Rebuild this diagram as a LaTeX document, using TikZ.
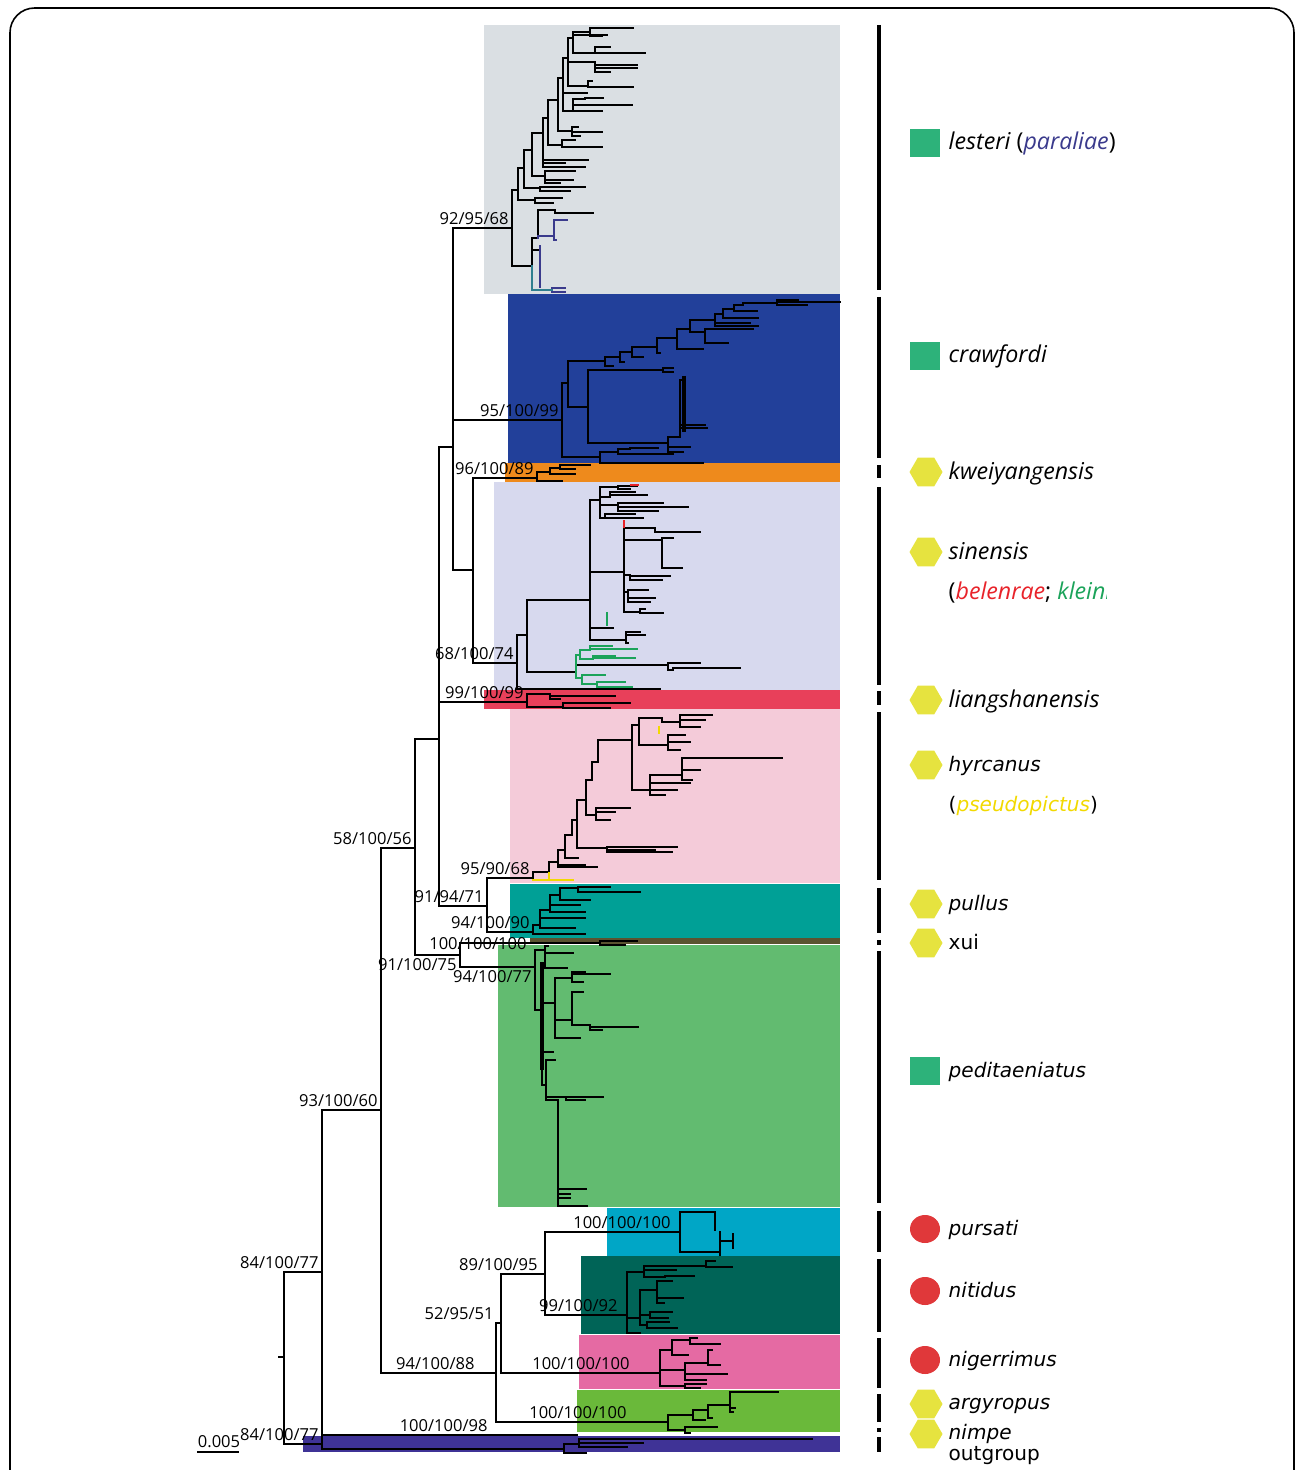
\documentclass[tikz,border=0pt]{standalone}
\usepackage{fontspec}
\setmainfont{Open Sans}
\newfontfamily\dvs{DejaVu Sans}[ItalicFont={DejaVu Sans Oblique}]
\usetikzlibrary{shapes.geometric}

\definecolor{cLes}{HTML}{DADFE3}
\definecolor{cCra}{HTML}{22409A}
\definecolor{cKwe}{HTML}{EE8A1C}
\definecolor{cSin}{HTML}{D7D9EE}
\definecolor{cLia}{HTML}{E8405A}
\definecolor{cHyr}{HTML}{F4CBD9}
\definecolor{cPul}{HTML}{00A096}
\definecolor{cXui}{HTML}{5A5330}
\definecolor{cPed}{HTML}{62BB70}
\definecolor{cPur}{HTML}{00A6C6}
\definecolor{cNit}{HTML}{006457}
\definecolor{cNig}{HTML}{E56AA3}
\definecolor{cArg}{HTML}{6AB93A}
\definecolor{cOut}{HTML}{3F3396}
\definecolor{symG}{HTML}{2DB27A}
\definecolor{symY}{HTML}{E6E33F}
\definecolor{symR}{HTML}{E0383A}
\definecolor{cPar}{HTML}{3A3A8C}
\definecolor{cBel}{HTML}{E8232A}
\definecolor{cKle}{HTML}{1BA35A}
\definecolor{cPse}{HTML}{F2D900}
\definecolor{cTeal}{HTML}{2F7F8F}

\begin{document}
\begin{tikzpicture}[x=0.01cm, y=-0.01cm,
    br/.style={line width=0.45pt, line cap=rect},
    sup/.style={font=\fontsize{4.7}{5}\selectfont, inner sep=0.8pt, anchor=south east},
    bar/.style={line width=1.4pt},
    sq/.style={rectangle, fill=symG, minimum width=0.3cm, minimum height=0.28cm, inner sep=0pt},
    hx/.style={regular polygon, regular polygon sides=6, fill=symY, minimum size=0.33cm, inner sep=0pt},
    dot/.style={ellipse, fill=symR, minimum width=0.3cm, minimum height=0.28cm, inner sep=0pt},
    spA/.style={font=\fontsize{6.6}{8}\selectfont, anchor=base west, inner sep=0pt},
    spB/.style={font=\dvs\fontsize{5.7}{7}\selectfont, anchor=base west, inner sep=0pt}
]
\useasboundingbox (0,0) rectangle (1295,1470);
\clip (0,0) rectangle (1295,1470);
\draw[line width=0.45pt, rounded corners=7pt] (10,8) rectangle (1294,1520);

% clade bands
\foreach \c/\xa/\ya/\yb in {cLes/484/25/294, cCra/508/294/463, cKwe/505/463/482,
    cSin/494/482/690, cLia/484/690/709, cHyr/510/709/883, cPul/510/884/938,
    cXui/530/938/944, cPed/498/945/1207, cPur/607/1208/1256, cNit/581/1256/1334,
    cNig/579/1335/1389, cArg/577/1390/1432, cOut/303/1436/1452}
  \fill[\c] (\xa,\ya) rectangle (840,\yb);

% backbone
\coordinate (root) at (284,1357);
\coordinate (nU) at (322,1272);
\coordinate (nL) at (322,1444);
\coordinate (n93) at (381,1110);
\coordinate (n58) at (415,848);
\coordinate (n94) at (496,1373);
\coordinate (nA) at (439,739);
\coordinate (n91b) at (460,955);
\coordinate (nB) at (453,447);
\coordinate (n9194) at (487,906);
\coordinate (nC) at (473,570);
\coordinate (n52) at (501,1323);
\coordinate (n89) at (545,1274);
\coordinate (les) at (512,228);
\coordinate (cra) at (562,420);
\coordinate (kwe) at (537,478);
\coordinate (sin) at (517,663);
\coordinate (lia) at (527,702);
\coordinate (hyr) at (533,878);
\coordinate (pul) at (533,932);
\coordinate (xui) at (600,943);
\coordinate (ped) at (535,967);
\coordinate (pur) at (680,1232);
\coordinate (nit) at (627,1315);
\coordinate (nig) at (660,1373);
\coordinate (arg) at (668,1422);
\coordinate (nim) at (577,1435);
\coordinate (out) at (564,1449);

\foreach \p/\c in {root/nU, root/nL, nU/n93, nU/nim, nL/out, n93/n58, n93/n94,
    n58/nA, n58/n91b, nA/nB, nA/lia, nA/n9194, nB/les, nB/cra, nB/nC, nC/kwe,
    nC/sin, n9194/hyr, n9194/pul, n91b/xui, n91b/ped, n94/n52, n94/arg,
    n52/n89, n52/nig, n89/pur, n89/nit}
  \draw[br] (\p) |- (\c);
\draw[br] (nU |- nim) -- (nL);
\draw[br] (root) -- ++(-5,0);

% lesteri
\foreach \a/\b/\c/\d in {512/228/518/190, 518/190/524/168, 524/168/532/150, 532/150/543/133,
    543/133/548/118, 548/118/558/100, 558/100/563/78, 563/78/568/58, 568/58/573/38, 573/38/590/32,
    518/190/535/200, 535/200/562/198, 535/200/553/203,
    524/168/540/188, 540/188/585/187, 540/188/570/191,
    532/150/545/176, 545/176/573/180, 545/176/575/171, 545/176/560/183,
    543/133/588/160, 543/133/585/167, 543/133/565/163,
    548/118/562/145, 562/145/602/147, 562/145/575/140,
    558/100/572/131, 572/131/602/132, 572/131/580/136, 572/131/578/127,
    563/78/573/111, 573/111/632/105, 573/111/602/111, 573/111/585/99, 585/99/603/98, 563/78/587/93,
    568/58/588/86, 588/86/633/87, 588/86/592/81,
    568/58/595/62, 595/62/637/65, 595/62/637/68, 595/62/610/72,
    573/38/595/53, 595/53/645/53, 595/53/610/47, 573/38/607/35,
    590/32/607/28, 607/28/633/28, 590/32/602/36,
    512/228/532/266, 532/266/538/238, 538/238/543/210, 543/210/555/210, 555/210/593/213,
    532/266/540/250}
  \draw[br] (\a,\b) |- (\c,\d);
\foreach \a/\b/\c/\d in {538/238/554/236, 554/236/567/220, 554/236/556/240, 552/290/565/288, 552/290/565/292}
  \draw[br, cPar] (\a,\b) |- (\c,\d);
\draw[br, cPar] (540,246) -- (540,287);
\draw[br, cTeal] (532,266) |- (552,290);

% crawfordi
\foreach \a/\b/\c/\d in {562/420/568/383, 568/383/588/407, 562/420/600/457,
    588/407/663/370, 663/370/673/368, 663/370/673/372,
    588/407/668/443, 668/443/680/437, 680/437/707/428, 680/437/705/425, 680/437/684/380,
    668/443/690/447, 668/443/683/452,
    600/457/618/452, 618/452/630/449, 630/449/658/448, 618/452/673/454, 600/457/703/463,
    568/383/605/361, 605/361/620/357, 605/361/613/366, 620/357/632/352, 620/357/624/362,
    632/352/657/347, 632/352/643/357, 657/347/677/338, 657/347/660/353,
    677/338/690/329, 677/338/703/349, 690/329/705/332, 705/332/753/329, 705/332/712/343,
    712/343/728/343, 690/329/715/320, 715/320/750/323, 715/320/758/326, 715/320/723/314,
    723/314/758/318, 723/314/734/309, 734/309/757/311, 734/309/743/305, 743/305/777/303,
    777/303/798/300, 777/303/807/305, 777/303/840/302}
  \draw[br] (\a,\b) |- (\c,\d);
\draw[line width=1.1pt] (684,376) -- (684,432);

% kweiyangensis and liangshanensis
\foreach \a/\b/\c/\d in {537/478/550/472, 550/472/560/468, 560/468/590/465, 560/468/575/469,
    550/472/575/474, 537/478/562/481,
    527/702/550/694, 550/694/615/696, 550/694/560/699, 527/702/563/707, 563/707/630/703, 563/707/610/708}
  \draw[br] (\a,\b) |- (\c,\d);

% sinensis
\foreach \a/\b/\c/\d in {517/663/527/635, 517/663/660/689, 527/635/590/600,
    590/600/600/500, 590/600/624/572, 590/600/597/628, 590/600/626/640,
    600/500/618/487, 618/487/637/486, 618/487/630/489, 600/500/610/497, 610/497/647/495,
    610/497/635/492, 600/500/618/505, 618/505/663/503, 618/505/688/507, 618/505/658/511,
    600/500/605/518, 605/518/643/518, 605/518/635/514,
    624/572/655/528, 655/528/700/532, 624/572/662/540, 662/540/673/538, 662/540/682/568,
    624/572/630/575, 630/575/670/576, 630/575/662/580, 624/572/628/592, 628/592/648/590,
    628/592/655/598, 628/592/650/602, 624/572/640/612, 640/612/663/613, 640/612/645/609,
    597/628/613/628, 626/640/645/635, 626/640/640/632, 626/640/628/643,
    527/635/576/672, 576/672/668/665, 668/665/700/663, 668/665/673/670, 673/670/740/668}
  \draw[br] (\a,\b) |- (\c,\d);
\foreach \a/\b/\c/\d in {576/672/580/655, 580/655/590/650, 590/650/637/649, 590/650/612/646,
    580/655/593/659, 593/659/635/658, 593/659/615/656, 576/672/582/678, 582/678/605/675,
    582/678/597/684, 597/684/632/687, 597/684/625/682}
  \draw[br, cKle] (\a,\b) |- (\c,\d);
\draw[br, cKle] (607,613) -- (607,625);
\draw[br, cBel] (631,485) -- (638,485);
\draw[br, cBel] (624,521) -- (624,527);

% hyrcanus, pullus, xui
\foreach \a/\b/\c/\d in {533/878/549/872, 549/872/558/862, 558/862/565/850, 565/850/572/835,
    572/835/577/820, 577/820/586/800, 586/800/592/780, 592/780/598/762, 598/762/632/740,
    632/740/639/725, 639/725/662/718,
    558/862/597/867, 558/862/585/865, 565/850/578/858,
    577/820/607/848, 607/848/677/847, 607/848/672/852, 607/848/655/850,
    586/800/596/815, 596/815/630/808, 596/815/615/812, 596/815/610/820,
    632/740/650/790, 650/790/690/783, 650/790/677/790, 650/790/665/795,
    650/790/682/775, 682/775/707/758, 707/758/782/758, 682/775/700/770, 682/775/692/780,
    639/725/668/745, 668/745/690/742, 668/745/685/735, 668/745/680/750,
    662/718/680/722, 680/722/712/715, 680/722/705/720, 680/722/700/727,
    533/932/540/925, 540/925/550/910, 550/910/560/895, 560/895/578/888, 578/888/610/887,
    578/888/640/892, 560/895/590/900, 550/910/580/905, 550/910/585/912, 540/925/585/918,
    540/925/575/928, 533/932/585/934,
    600/943/637/941, 600/943/625/945}
  \draw[br] (\a,\b) |- (\c,\d);
\draw[br, cPse] (533,880) -- (573,880);
\draw[br, cPse] (549,873) -- (549,880);
\draw[br, cPse] (659,727) -- (659,733);

% peditaeniatus
\foreach \a/\b/\c/\d in {535/967/545/950, 545/950/573/953, 545/950/548/946, 545/950/567/968,
    535/967/542/1010, 542/1010/555/1003, 555/1003/572/978, 572/978/610/974, 572/978/585/972,
    572/978/583/982, 555/1003/572/1020, 572/1020/583/992, 572/1020/590/1025,
    590/1025/638/1027, 590/1025/602/1030, 555/1003/580/1038, 542/1010/553/1052,
    542/1010/546/1085, 546/1085/555/1060, 546/1085/566/1097, 566/1097/603/1097,
    566/1097/585/1100, 546/1085/558/1100, 558/1100/586/1189, 558/1100/570/1194,
    558/1100/570/1198, 558/1100/587/1206}
  \draw[br] (\a,\b) |- (\c,\d);
\draw[line width=1pt] (542,962) -- (542,1070);

% pursati, nitidus, nigerrimus, argyropus, outgroup
\foreach \a/\b/\c/\d in {680/1232/715/1212, 680/1232/720/1252, 720/1241/733/1241,
    627/1315/644/1272, 644/1272/706/1266, 706/1266/715/1261, 706/1266/732/1267,
    644/1272/676/1270, 644/1272/665/1277, 665/1277/694/1276,
    627/1315/640/1318, 640/1318/657/1290, 657/1290/672/1281, 657/1290/683/1298,
    657/1290/664/1303, 640/1318/650/1315, 650/1315/672/1312, 650/1315/668/1318,
    640/1318/647/1325, 647/1325/677/1328, 647/1325/669/1322, 627/1315/640/1333,
    660/1373/672/1350, 672/1350/690/1340, 690/1340/697/1338, 690/1340/720/1344,
    672/1350/688/1355, 660/1373/685/1370, 685/1370/708/1363, 708/1363/712/1350,
    708/1363/720/1365, 685/1370/727/1374, 685/1370/706/1380, 660/1373/685/1386,
    685/1386/706/1384, 685/1386/700/1388,
    668/1422/693/1415, 693/1415/708/1410, 708/1410/730/1405, 730/1405/778/1392,
    730/1405/735/1408, 730/1405/733/1412, 708/1410/712/1418, 693/1415/705/1420,
    668/1422/685/1430, 685/1430/717/1427, 685/1430/690/1433,
    564/1449/579/1444, 579/1444/812/1439, 579/1444/643/1443, 579/1444/627/1447,
    564/1449/586/1453}
  \draw[br] (\a,\b) |- (\c,\d);
\draw[br] (715,1212) -- (715,1230);
\draw[br] (720,1232) -- (720,1255);
\draw[br] (733,1234) -- (733,1248);

% support values
\node[sup] (s1) at (les) {92/95/68};
\node[sup] (s2) at (cra) {95/100/99};
\node[sup] (s3) at (kwe) {96/100/89};
\node[sup] (s4) at (sin) {68/100/74};
\node[sup] (s5) at (lia) {99/100/99};
\node[sup] (s6) at (n58) {58/100/56};
\node[sup] (s7) at (hyr) {95/90/68};
\node[sup] (s8) at (n9194) {91/94/71};
\node[sup] (s9) at (pul) {94/100/90};
\node[sup, anchor=east] (s10) at (530,944) {100/100/100};
\node[sup, anchor=north east] (s11) at (n91b) {91/100/75};
\node[sup, anchor=north east] (s12) at (ped) {94/100/77};
\node[sup] (s13) at (n93) {93/100/60};
\node[sup] (s14) at (nU) {84/100/77};
\node[sup] (s15) at (nL) {84/100/77};
\node[sup] (s16) at (491,1435) {100/100/98};
\node[sup] (s17) at (478,1373) {94/100/88};
\node[sup] (s18) at (497,1323) {52/95/51};
\node[sup] (s19) at (541,1274) {89/100/95};
\node[sup] (s20) at (674,1232) {100/100/100};
\node[sup] (s21) at (621,1315) {99/100/92};
\node[sup] (s22) at (633,1373) {100/100/100};
\node[sup] (s23) at (630,1422) {100/100/100};

% scale bar
\node[font=\fontsize{4.7}{5}\selectfont, inner sep=0pt] (scl) at (219,1442) {0.005};
\draw[line width=0.6pt] (scl.south west) ++(0,3) -- ++(42,0);

% clade bar
\foreach \ya/\yb in {25/290, 297/458, 465/478, 487/685, 691/705, 712/880, 888/933, 940/945,
    951/1203, 1211/1252, 1259/1332, 1338/1388, 1394/1422, 1428/1432, 1437/1452}
  \draw[bar] (879,\ya) -- (879,\yb);

% legend
\node[sq] (kLes) at (925,143) {};
\node[spA] (tLes) at (948,150) {\textit{lesteri} (\textit{\textcolor{cPar}{paraliae}})};
\node[sq] (kCra) at (925,356) {};
\node[spA] (tCra) at (948,363) {\textit{crawfordi}};
\node[hx] (kKwe) at (926,472) {};
\node[spA] (tKwe) at (948,479) {\textit{kweiyangensis}};
\node[hx] (kSin) at (926,552) {};
\node[spA] (tSin) at (948,559) {\textit{sinensis}};
\begin{scope}
\clip (940,570) rectangle (1106,615);
\node[spA] (tSin2) at (948,599) {(\textit{\textcolor{cBel}{belenrae}}; \textit{\textcolor{cKle}{kleini}}};
\end{scope}
\node[hx] (kLia) at (926,700) {};
\node[spA] (tLia) at (948,707) {\textit{liangshanensis}};
\node[hx] (kHyr) at (926,765) {};
\node[spB] (tHyr) at (948,771) {\textit{hyrcanus}};
\node[spB] (tHyr2) at (948,811) {(\textit{\textcolor{cPse}{pseudopictus}})};
\node[hx] (kPul) at (926,904) {};
\node[spB] (tPul) at (948,910) {\textit{pullus}};
\node[hx] (kXui) at (926,943) {};
\node[spB] (tXui) at (948,949) {xui};
\node[sq] (kPed) at (925,1071) {};
\node[spB] (tPed) at (948,1077) {\textit{peditaeniatus}};
\node[dot] (kPur) at (925,1229) {};
\node[spB] (tPur) at (948,1235) {\textit{pursati}};
\node[dot] (kNit) at (925,1291) {};
\node[spB] (tNit) at (948,1297) {\textit{nitidus}};
\node[dot] (kNig) at (925,1360) {};
\node[spB] (tNig) at (948,1366) {\textit{nigerrimus}};
\node[hx] (kArg) at (926,1404) {};
\node[spB] (tArg) at (948,1409) {\textit{argyropus}};
\node[hx] (kNim) at (926,1434) {};
\node[spB] (tNim) at (948,1439) {\textit{nimpe}};
\node[spB] (tOut) at (948,1460) {outgroup};
\end{tikzpicture}
\end{document}
